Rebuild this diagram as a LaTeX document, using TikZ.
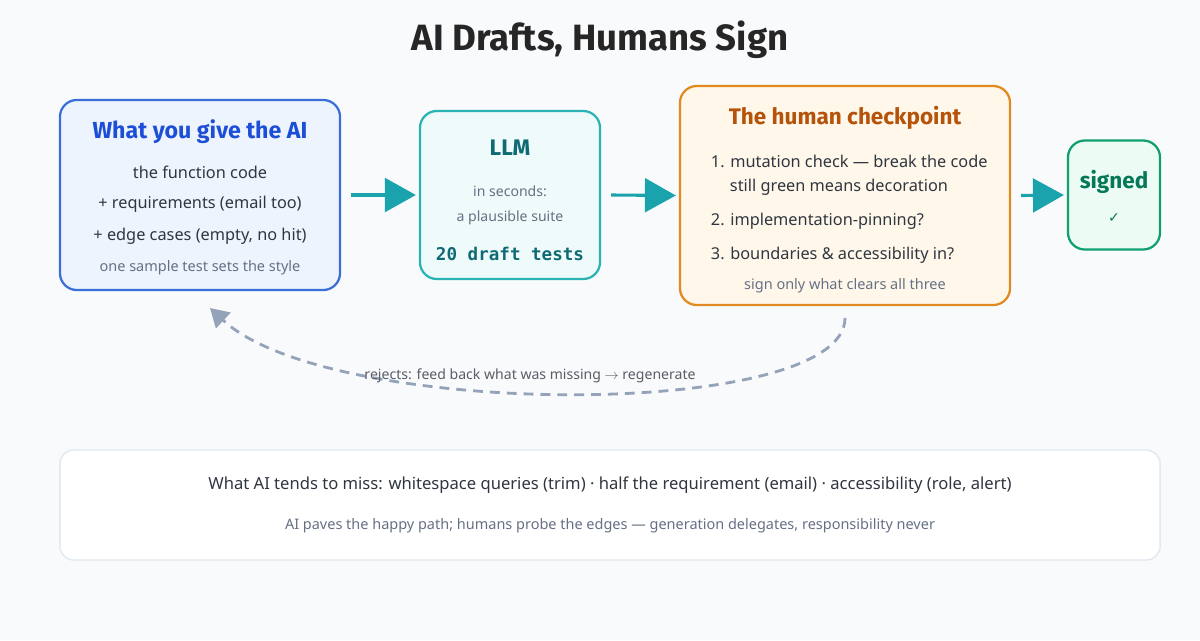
\documentclass[tikz,border=0pt]{standalone}
\usepackage{fontspec}
\setmainfont{Noto Sans}
\newfontfamily\headfont{Fira Sans}[UprightFont={* Bold}]
\setmonofont{DejaVu Sans Mono}
\usepackage{tikz}
\usetikzlibrary{arrows.meta,positioning,calc}
\definecolor{bgcol}{HTML}{F8FAFC}
\definecolor{inkcol}{HTML}{2F3640}
\definecolor{mutedcol}{HTML}{667085}
\definecolor{bluedraw}{HTML}{3B6FD8}
\definecolor{bluefill}{HTML}{EEF4FE}
\definecolor{bluetext}{HTML}{1D4ED8}
\definecolor{tealdraw}{HTML}{2BB3B3}
\definecolor{tealfill}{HTML}{EEFBFA}
\definecolor{tealtext}{HTML}{0F6A75}
\definecolor{arrowcol}{HTML}{1AA3AD}
\definecolor{orangedraw}{HTML}{E08A20}
\definecolor{orangefill}{HTML}{FFF8EA}
\definecolor{orangetext}{HTML}{B45309}
\definecolor{greendraw}{HTML}{10A070}
\definecolor{greenfill}{HTML}{ECFBF4}
\definecolor{greentext}{HTML}{047857}
\definecolor{dashcol}{HTML}{94A3B8}
\definecolor{notedraw}{HTML}{E2E8F0}

\begin{document}
\begin{tikzpicture}[x=0.025cm,y=-0.025cm,
  box/.style={rounded corners=12pt,line width=1.6pt,inner sep=0pt},
  flow/.style={-{Triangle[length=22pt,width=24pt]},line width=2.2pt,draw=arrowcol},
  head/.style={font=\headfont\fontsize{16}{18}\selectfont},
  body/.style={font=\fontsize{11.6}{14}\selectfont,text=inkcol},
  small/.style={font=\fontsize{10.3}{12}\selectfont,text=mutedcol}]
\fill[bgcol] (0,0) rectangle (1200,640);
\useasboundingbox (0,0) rectangle (1200,640);

\node[font=\headfont\fontsize{26}{30}\selectfont,text=black!85] (title) at (600,40) {AI Drafts, Humans Sign};

%boxes
\node[box,draw=bluedraw,fill=bluefill,minimum width=7cm,minimum height=4.75cm] (give) at (200,195) {};
\node[box,draw=tealdraw,fill=tealfill,minimum width=4.5cm,minimum height=4.2cm] (llm) at (510,195) {};
\node[box,draw=orangedraw,fill=orangefill,minimum width=8.25cm,minimum height=5.475cm] (check) at (845,195.5) {};
\node[box,draw=greendraw,fill=greenfill,minimum width=2.3cm,minimum height=2.725cm] (signed) at (1114,195) {};

%texts in boxes
\node[head,text=bluetext,font=\headfont\fontsize{16.5}{19}\selectfont] (giveT) at (200,132) {What you give the AI};
\node[body] (give1) at (200,172) {the function code};
\node[body] (give2) at (200,204) {+ requirements (email too)};
\node[body] (give3) at (200,236) {+ edge cases (empty, no hit)};
\node[small] (give4) at (200,268) {one sample test sets the style};

\node[head,text=tealtext] (llmT) at (510,148) {LLM};
\node[small,font=\fontsize{10}{12}\selectfont] (llm1) at (510,191) {in seconds:};
\node[small,font=\fontsize{10}{12}\selectfont] (llm2) at (510,218) {a plausible suite};
\node[font=\ttfamily\bfseries\fontsize{12.5}{14}\selectfont,text=tealtext] (llm3) at (510,254) {20 draft tests};

\node[head,text=orangetext] (checkT) at (845,118) {The human checkpoint};
\node[body,anchor=west] (check1) at (706,161) {1. mutation check — break the code};
\node[body,anchor=west] (check1b) at (725,187) {still green means decoration};
\node[body,anchor=west] (check2) at (706,221) {2. implementation-pinning?};
\node[body,anchor=west] (check3) at (706,255) {3. boundaries \& accessibility in?};
\node[small] (check4) at (845,286) {sign only what clears all three};

\node[head,text=greentext] (signedT) at (1114,182) {signed};
\node[font=\fontsize{10}{11}\selectfont,text=greentext] (tick) at (1114,218) {\fontspec{DejaVu Sans}✓};

%flow arrows
\draw[flow] ($(give.east)+(10,0)$) -- ($(llm.west)+(-3,0)$);
\draw[flow] ($(llm.east)+(10,0)$) -- ($(check.west)+(-3,0)$);
\draw[flow] ($(check.east)+(10,0)$) -- ($(signed.west)+(-3,0)$);

%feedback loop
\coordinate (loopA) at (845,318);
\coordinate (loopB) at (210,308);
\draw[dashcol,line width=2pt,dash pattern=on 7pt off 5pt,-{Triangle[length=13pt,width=15pt]}]
  (loopA) .. controls (845,420) and (330,420) .. (loopB);
\node[small,text=inkcol!80,font=\fontsize{10}{12}\selectfont] (loopL) at (530,376) {rejects: feed back what was missing $\rightarrow$ regenerate};

%bottom note
\node[rounded corners=10pt,draw=notedraw,line width=1pt,fill=white,minimum width=27.5cm,minimum height=2.75cm] (note) at (610,505) {};
\node[body,font=\fontsize{11.8}{14}\selectfont] (note1) at (610,485) {What AI tends to miss: whitespace queries (trim) · half the requirement (email) · accessibility (role, alert)};
\node[small] (note2) at (610,526) {AI paves the happy path; humans probe the edges — generation delegates, responsibility never};
\end{tikzpicture}
\end{document}
